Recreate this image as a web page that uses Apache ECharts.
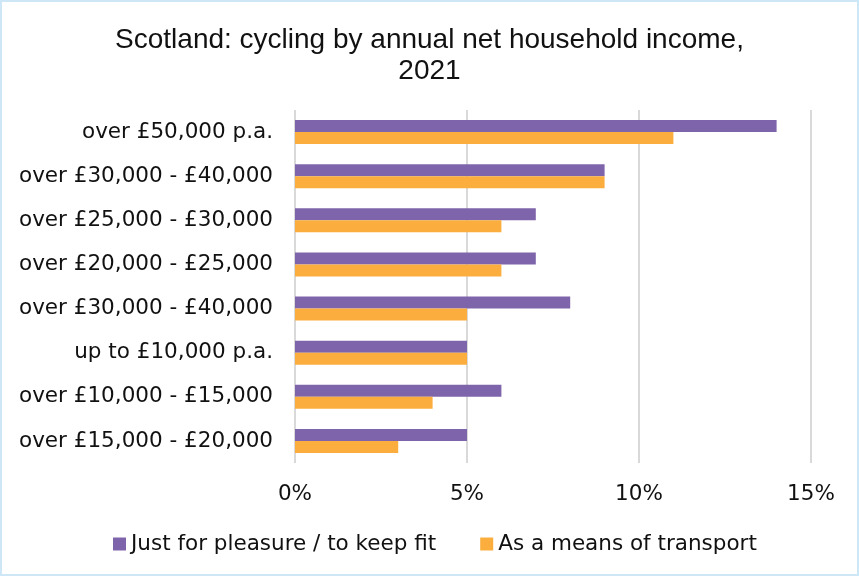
<!DOCTYPE html>
<html>
<head>
<meta charset="utf-8">
<script src="https://cdn.jsdelivr.net/npm/echarts@6/dist/echarts.min.js"></script>
<style>
html,body{margin:0;padding:0;background:#fff;}
#c{width:859px;height:576px;box-sizing:border-box;border:2px solid #cde7f7;}
</style>
</head>
<body>
<div id="c"></div>
<script>
const categories = ["over £50,000 p.a.","over £30,000 - £40,000","over £25,000 - £30,000","over £20,000 - £25,000","over £30,000 - £40,000","up to £10,000 p.a.","over £10,000 - £15,000","over £15,000 - £20,000"];
const pleasure = [14, 9, 7, 7, 8, 5, 6, 5];
const transport = [11, 9, 6, 6, 5, 5, 4, 3];
const seriesNames = ["Just for pleasure / to keep fit", "As a means of transport"];
const TFONT = "'Liberation Sans', Arial, sans-serif";
const FONT = "'DejaVu Sans', sans-serif";
const chart = echarts.init(document.getElementById('c'));
chart.setOption({
  animation: false,
  title: {
    text: "Scotland: cycling by annual net household income,\n2021",
    left: 'center', top: 18,
    textStyle: {fontFamily: TFONT, fontSize: 28, fontWeight: 'normal', color: '#111', lineHeight: 31}
  },
  legend: {
    top: 526, left: 106, itemWidth: 13, itemHeight: 13, itemGap: 44,
    icon: 'rect',
    textStyle: {fontFamily: FONT, fontSize: 21.5, color: '#111'},
    data: seriesNames
  },
  grid: {left: 293, right: 46, top: 108, bottom: 111},
  xAxis: {
    type: 'value', min: 0, max: 15, interval: 5,
    axisLabel: {formatter: '{value}%', fontFamily: FONT, fontSize: 21.5, color: '#111', margin: 20},
    splitLine: {lineStyle: {color: '#d9d9d9', width: 2}},
    axisLine: {show: false}, axisTick: {show: false}
  },
  yAxis: {
    type: 'category', data: categories, inverse: true,
    axisLabel: {fontFamily: FONT, fontSize: 21.5, color: '#111', margin: 22},
    axisLine: {show: false}, axisTick: {show: false}
  },
  series: [
    {name: seriesNames[0], type: 'bar', data: pleasure, barWidth: 12, barGap: '0%', itemStyle: {color: '#7E64AA'}},
    {name: seriesNames[1], type: 'bar', data: transport, barWidth: 12, barGap: '0%', itemStyle: {color: '#FBAE3E'}}
  ]
});
</script>
</body>
</html>
